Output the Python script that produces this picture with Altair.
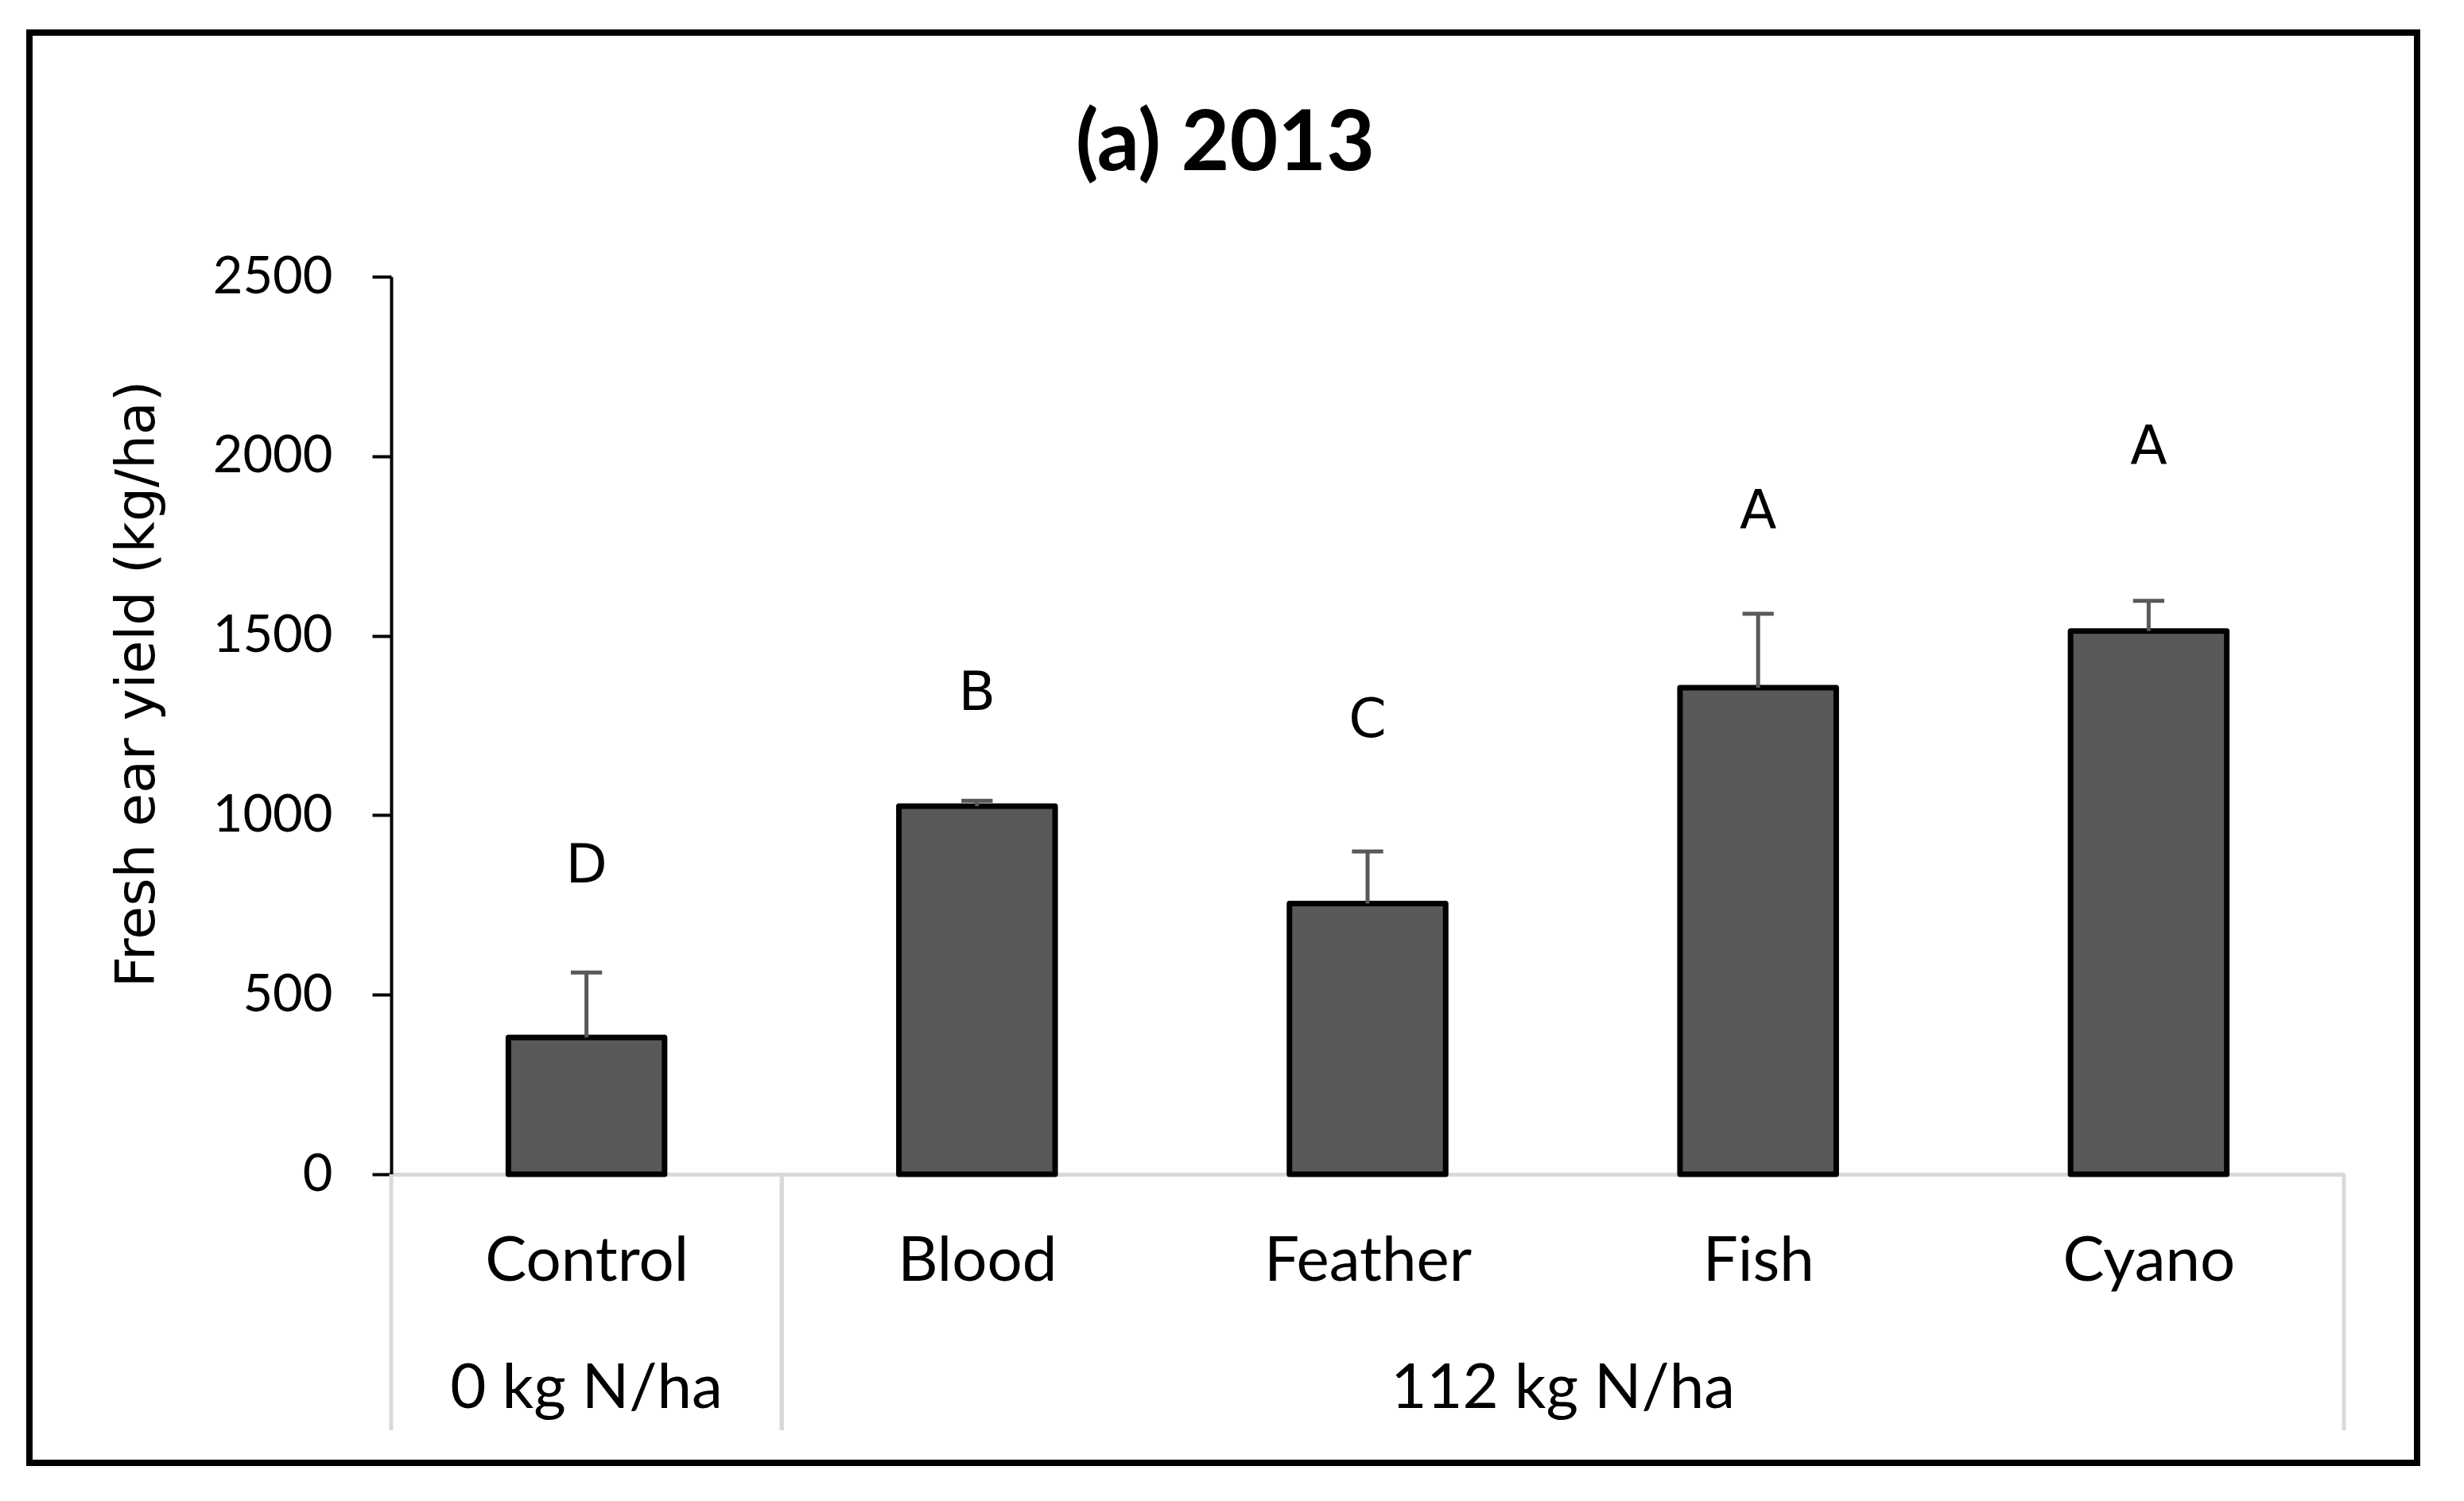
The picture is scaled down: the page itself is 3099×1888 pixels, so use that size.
import json
import altair as alt
import pandas as pd

# ---- data ----
categories = ["Control", "Blood", "Feather", "Fish", "Cyano"]
yield_mean = [381, 1025, 754, 1355, 1513]
yield_se = [181, 15, 145, 206, 84]
letters = ["D", "B", "C", "A", "A"]
letter_y = [866, 1346, 1272, 1851, 2031]
n_rates = ["0 kg N/ha", "112 kg N/ha", "112 kg N/ha", "112 kg N/ha", "112 kg N/ha"]
y_ticks = [0, 500, 1000, 1500, 2000, 2500]
title_text = "(a) 2013"
y_title = "Fresh ear yield (kg/ha)"

df = pd.DataFrame({
    "idx": list(range(len(categories))),
    "cat": categories,
    "mean": yield_mean,
    "se": yield_se,
    "letter": letters,
    "ly": letter_y,
    "rate": n_rates,
})

W, H = 2456, 1129
GRAY = "#d9d9d9"
BAR = "#595959"
SANS = "Lato"

xscale = alt.Scale(domain=[-0.5, len(categories) - 0.5], nice=False, zero=False)
yscale = alt.Scale(domain=[0, 2500], nice=False)

label_expr = json.dumps(categories) + "[datum.value]"

xaxis = alt.Axis(
    values=list(range(len(categories))), labelExpr=label_expr,
    ticks=False, tickSize=0, grid=False,
    domainColor=GRAY, domainWidth=5,
    labelFont=SANS, labelFontSize=78, labelColor="black",
    labelBaseline="alphabetic", labelPadding=133, labelLimit=2000,
    labelFlush=False, labelOverlap=False, title=None,
)
yaxis = alt.Axis(
    values=y_ticks, format="d", grid=False,
    domainColor="black", domainWidth=4,
    tickColor="black", tickWidth=4, tickSize=24,
    labelFont=SANS, labelFontSize=65, labelColor="black", labelPadding=50,
    labelLimit=2000,
    title=y_title, titleFont="DejaVu Sans", titleFontSize=68,
    titleFontWeight="normal", titleColor="black", titleLimit=3000,
    titleX=-299, titleY=512, titleBaseline="alphabetic", titleAlign="center",
)

base = alt.Chart(df)

frame = alt.Chart(pd.DataFrame({"t": [0]})).mark_rect(
    fillOpacity=0, stroke="black", strokeWidth=8
).encode(
    x=alt.value(-455), x2=alt.value(2548), y=alt.value(-307), y2=alt.value(1492)
)

bars = base.transform_calculate(
    x0="datum.idx - 0.2", x1="datum.idx + 0.2"
).mark_bar(color=BAR, stroke="black", strokeWidth=7, strokeJoin="round").encode(
    x=alt.X("x0:Q", scale=xscale, axis=xaxis),
    x2="x1:Q",
    y=alt.Y("mean:Q", scale=yscale, axis=yaxis),
    y2=alt.datum(0),
)

stems = base.transform_calculate(top="datum.mean + datum.se").mark_rule(
    color=BAR, strokeWidth=5
).encode(
    x=alt.X("idx:Q", title=None),
    y=alt.Y("mean:Q", title=y_title),
    y2="top:Q",
)

caps = base.transform_calculate(
    top="datum.mean + datum.se", c0="datum.idx - 0.04", c1="datum.idx + 0.04"
).mark_rule(color=BAR, strokeWidth=5).encode(
    x=alt.X("c0:Q", title=None),
    x2="c1:Q",
    y=alt.Y("top:Q", title=y_title),
)

letter_marks = base.mark_text(
    font="DejaVu Sans", fontSize=68, baseline="middle", dy=4, color="black"
).encode(
    x=alt.X("idx:Q", title=None),
    y=alt.Y("ly:Q", title=y_title),
    text="letter:N",
)

group_labels = base.transform_aggregate(
    cx="mean(idx)", groupby=["rate"]
).mark_text(font=SANS, fontSize=78, baseline="alphabetic", color="black").encode(
    x=alt.X("cx:Q", title=None),
    y=alt.value(H + 294),
    text="rate:N",
)

separators = base.transform_aggregate(
    lo="min(idx)", hi="max(idx)", groupby=["rate"]
).transform_calculate(
    left="datum.lo - 0.5", right="datum.hi + 0.5"
).transform_fold(["left", "right"], as_=["side", "edge"]).mark_rule(
    color=GRAY, strokeWidth=5
).encode(
    x=alt.X("edge:Q", title=None),
    y=alt.value(H),
    y2=alt.value(H + 322),
)

title = alt.Chart(pd.DataFrame({"t": [title_text]})).mark_text(
    font=SANS, fontSize=105, fontWeight="bold", baseline="alphabetic",
    align="center", color="black"
).encode(text="t:N", x=alt.value(1049), y=alt.value(-134))

chart = alt.layer(
    frame, separators, bars, stems, caps, letter_marks, group_labels, title
).properties(
    width=W, height=H,
    autosize=alt.AutoSizeParams(type="none"),
    padding={"left": 484, "top": 340, "right": 120, "bottom": 390},
    background="white",
).configure_view(stroke=None)

chart.save("out.html", embed_options={"renderer": "svg", "actions": False})
